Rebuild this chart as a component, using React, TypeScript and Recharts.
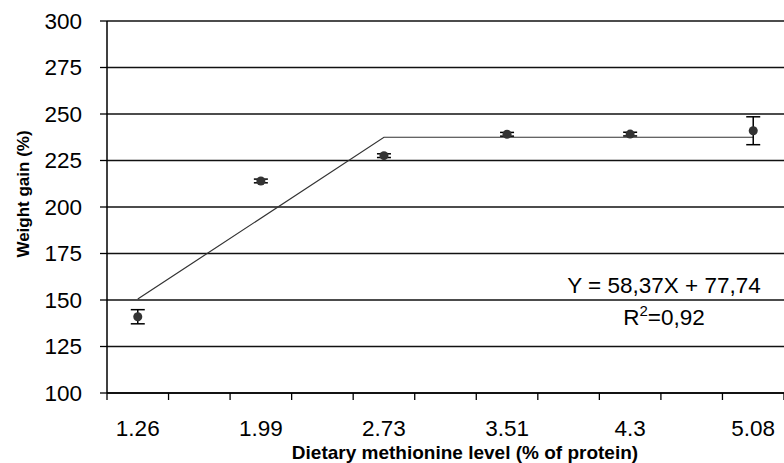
import React from "react";
import {
	ComposedChart,
	Scatter,
	Line,
	XAxis,
	YAxis,
	CartesianGrid,
	ErrorBar,
} from "recharts";

// methionine levels (% of protein)
const categories = ["1.26", "1.99", "2.73", "3.51", "4.3", "5.08"];
// mean weight gain (%)
const weightGain = [141, 214, 227.6, 239.1, 239.2, 241];
// standard error
const errors = [3.8, 1, 1, 1, 1, 7.5];
// broken-line fit: start, breakpoint, end
const fitLevels = ["1.26", "2.73", "5.08"];
const fitValues = [150.5, 237.5, 237.5];
const yTicks = [100, 125, 150, 175, 200, 225, 250, 275, 300];

const FONT = "'Liberation Sans', Arial, sans-serif";
const TICK_FONT = 22.5;

// each category takes two slots on the axis, ticks sit between slots
const posOf = (label: string) => categories.indexOf(label) * 2 + 0.5;

const points = categories.map((c, i) => ({
	pos: posOf(c),
	gain: weightGain[i],
	err: errors[i],
}));

const fit = fitLevels.map((c, i) => ({ pos: posOf(c), fit: fitValues[i] }));

const xTicks: number[] = [];
for (let i = 0; i <= 11; i++) xTicks.push(i);
categories.forEach((c) => xTicks.push(posOf(c)));
xTicks.sort((a, b) => a - b);

// integer ticks get a tick mark, half ticks get the category label
const XTick = (props: any) => {
	const { x, y, payload } = props;
	const v = payload.value;
	if (Number.isInteger(v)) {
		return (
			<line x1={x} x2={x} y1={y - 27} y2={y - 20} stroke="#000" strokeWidth={1.3} />
		);
	}
	const idx = Math.round((v - 0.5) / 2);
	return (
		<text x={x} y={y} dy="0.71em" textAnchor="middle" fontSize={TICK_FONT} fill="#000" fontFamily={FONT}>
			{categories[idx]}
		</text>
	);
};

const App = () => {
	return (
		<div style={{ position: "absolute", left: 0, top: 0, background: "#fff" }}>
			<ComposedChart
				width={784}
				height={463}
				margin={{ top: 21, right: 0, bottom: 20, left: 47 }}
				style={{ fontFamily: FONT }}
			>
				<CartesianGrid vertical={false} stroke="#111" strokeWidth={1.3} />
				<XAxis
					type="number"
					dataKey="pos"
					domain={[0, 11]}
					ticks={xTicks}
					interval={0}
					height={50}
					tickSize={7}
					tickMargin={20}
					tickLine={false}
					tick={<XTick />}
					axisLine={{ stroke: "#000", strokeWidth: 1.5 }}
					allowDataOverflow
				/>
				<YAxis
					type="number"
					domain={[100, 300]}
					ticks={yTicks}
					interval={0}
					width={60}
					tickSize={7}
					tickMargin={18}
					tick={{ fontSize: TICK_FONT, fill: "#000", fontFamily: FONT }}
					tickLine={{ stroke: "#000", strokeWidth: 1.3 }}
					axisLine={{ stroke: "#000", strokeWidth: 1.5 }}
				/>
				<Line
					data={fit}
					dataKey="fit"
					type="linear"
					stroke="#333"
					strokeWidth={1.2}
					dot={false}
					activeDot={false}
					isAnimationActive={false}
				/>
				<Scatter data={points} dataKey="gain" fill="#333" isAnimationActive={false}>
					<ErrorBar dataKey="err" direction="y" width={7} stroke="#000" strokeWidth={1.5} />
				</Scatter>
				<text
					x={465}
					y={459}
					textAnchor="middle"
					fontSize={19}
					fontWeight="bold"
					fontFamily={FONT}
					fill="#000"
				>
					Dietary methionine level (% of protein)
				</text>
				<text
					x={29}
					y={194}
					transform="rotate(-90 29 194)"
					textAnchor="middle"
					fontSize={17}
					fontWeight="bold"
					fontFamily={FONT}
					fill="#000"
				>
					Weight gain (%)
				</text>
				<text x={664} y={293} textAnchor="middle" fontSize={TICK_FONT} fontFamily={FONT} fill="#000">
					Y = 58,37X + 77,74
				</text>
				<text x={664} y={325} textAnchor="middle" fontSize={TICK_FONT} fontFamily={FONT} fill="#000">
					R<tspan dy={-9} fontSize={15}>2</tspan>
					<tspan dy={9}>=0,92</tspan>
				</text>
			</ComposedChart>
		</div>
	);
};

export default App;
